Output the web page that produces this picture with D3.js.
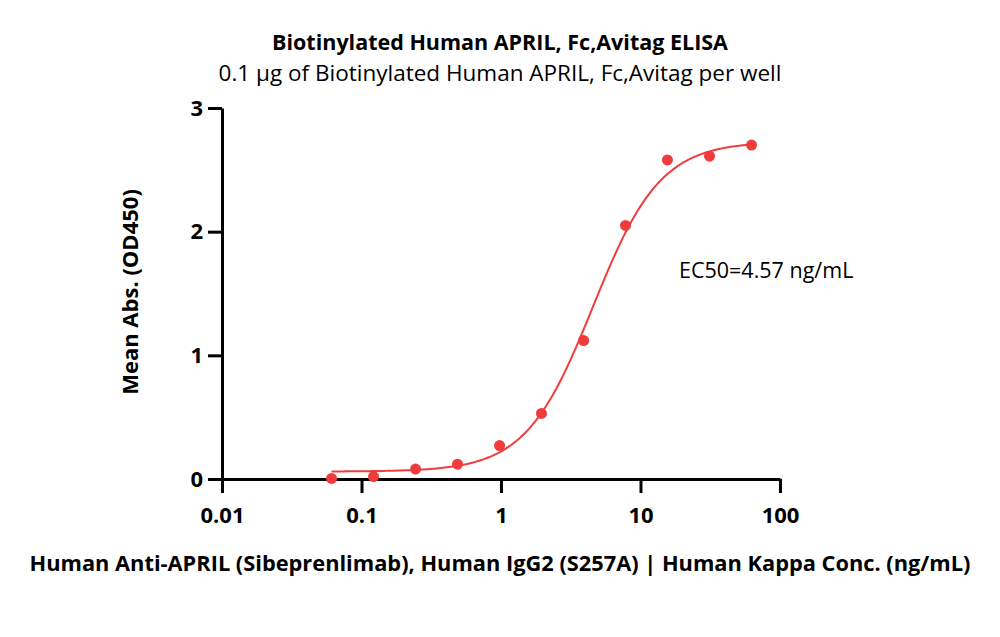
<html>
<head>
<style>
body { margin: 0; background: #fff; }
text { font-family: "Open Sans", "Noto Sans", sans-serif; fill: #000; }
.axis path, .axis line { stroke: #000; stroke-width: 3px; }
.axis text { font-size: 22px; font-weight: bold; }
</style>
</head>
<body>
<svg height="637" width="1000" id="container"></svg>
<script src="https://cdn.jsdelivr.net/npm/d3@7/dist/d3.min.js"></script>
<script>
// 浓度 (ng/mL) 与 OD450
var conc = [0.061, 0.122, 0.244, 0.488, 0.977, 1.95, 3.91, 7.81, 15.6, 31.25, 62.5];
var od = [0.005, 0.02, 0.08, 0.12, 0.27, 0.53, 1.12, 2.05, 2.58, 2.61, 2.70];
var xTicks = [0.01, 0.1, 1, 10, 100];
var yTicks = [0, 1, 2, 3];
// 4PL 拟合参数
var fitBottom = 0.06, fitTop = 2.73, ec50 = 4.57, hill = 1.8;

var svg = d3.select("#container");
var x = d3.scaleLog().domain([0.01, 100]).range([222, 780]);
var y = d3.scaleLinear().domain([0, 3]).range([479, 108]);
var red = "#f03c3c";

// 标题
svg.append("text").attr("x", 500).attr("y", 50).attr("text-anchor", "middle")
   .style("font-size", "21.5px").style("font-weight", "bold")
   .text("Biotinylated Human APRIL, Fc,Avitag ELISA");
svg.append("text").attr("x", 500).attr("y", 81).attr("text-anchor", "middle")
   .style("font-size", "22.5px")
   .text("0.1 μg of Biotinylated Human APRIL, Fc,Avitag per well");

// 坐标轴
svg.append("g").attr("class", "axis")
   .attr("transform", "translate(0," + y(0) + ")")
   .call(d3.axisBottom(x).tickValues(xTicks).tickFormat(d3.format("~g")).tickSize(14).tickSizeOuter(0).tickPadding(14));
svg.append("g").attr("class", "axis")
   .attr("transform", "translate(" + x(0.01) + ",0)")
   .call(d3.axisLeft(y).tickValues(yTicks).tickFormat(d3.format("d")).tickSize(14).tickSizeOuter(0).tickPadding(5));

svg.append("text").attr("x", 500).attr("y", 571).attr("text-anchor", "middle")
   .style("font-size", "21.8px").style("font-weight", "bold")
   .text("Human Anti-APRIL (Sibeprenlimab), Human IgG2 (S257A) | Human Kappa Conc. (ng/mL)");
svg.append("text").attr("transform", "translate(138,292) rotate(-90)").attr("text-anchor", "middle")
   .style("font-size", "22px").style("font-weight", "bold")
   .text("Mean Abs. (OD450)");

// 拟合曲线
var curveX = d3.range(0, 201).map(function(i){
  return Math.pow(10, Math.log10(conc[0]) + i / 200 * (Math.log10(conc[conc.length-1]) - Math.log10(conc[0])));
});
var line = d3.line()
   .x(function(d){ return x(d); })
   .y(function(d){ return y(fitBottom + (fitTop - fitBottom) / (1 + Math.pow(ec50 / d, hill))); });
svg.append("path").datum(curveX).attr("d", line)
   .attr("fill", "none").attr("stroke", red).attr("stroke-width", 2);

// 数据点
svg.selectAll(".dot").data(conc).enter().append("circle")
   .attr("cx", function(d){ return x(d); })
   .attr("cy", function(d, i){ return y(od[i]); })
   .attr("r", 5.5).attr("fill", red);

svg.append("text").attr("x", 679).attr("y", 278)
   .style("font-size", "21.5px")
   .text("EC50=4.57 ng/mL");
</script>
</body>
</html>
